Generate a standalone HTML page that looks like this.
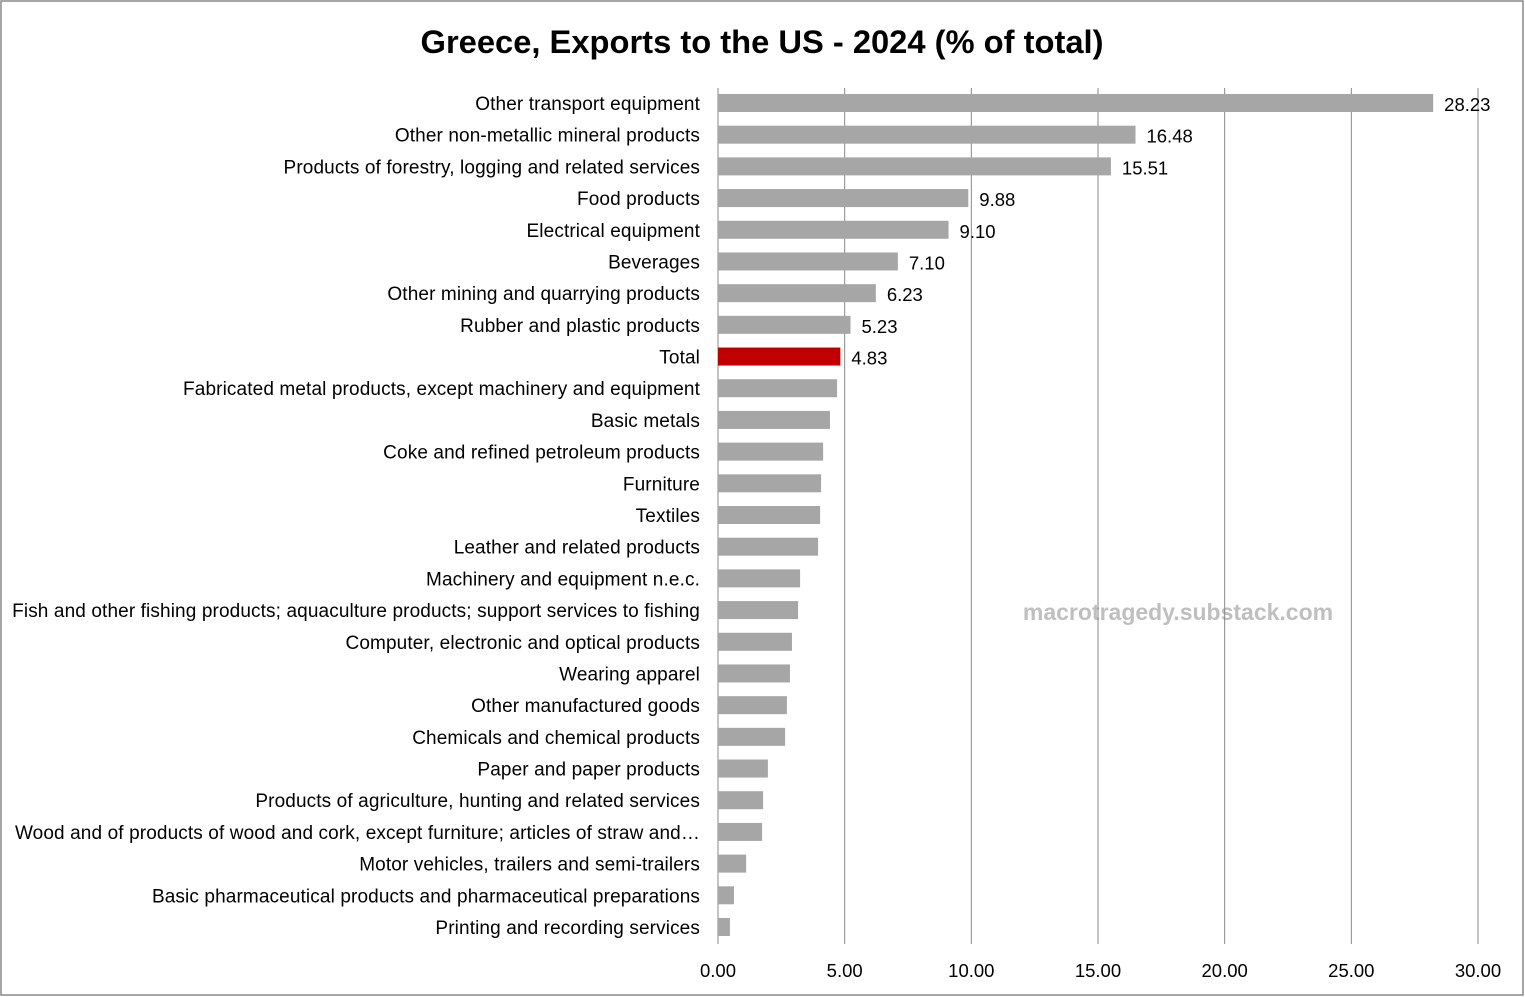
<!DOCTYPE html>
<html><head><meta charset="utf-8"><style>
body{margin:0;background:#fff}
svg{display:block;font-family:"Liberation Sans",sans-serif}
</style></head><body>
<svg id="c" width="1525" height="997">
<rect x="1" y="1" width="1522" height="994" fill="#fff" stroke="#888" stroke-width="1.5"/>
<text x="762" y="53" text-anchor="middle" font-size="32.7" font-weight="bold" fill="#000">Greece, Exports to the US - 2024 (% of total)</text>
<text x="1178" y="620" text-anchor="middle" font-size="23" font-weight="bold" fill="#bfbfbf">macrotragedy.substack.com</text>
<g id="grid"></g><g id="bars"></g><g id="labels"></g><g id="ticks"></g>
</svg>
<script>
const categories=["Other transport equipment","Other non-metallic mineral products","Products of forestry, logging and related services","Food products","Electrical equipment","Beverages","Other mining and quarrying products","Rubber and plastic products","Total","Fabricated metal products, except machinery and equipment","Basic metals","Coke and refined petroleum products","Furniture","Textiles","Leather and related products","Machinery and equipment n.e.c.","Fish and other fishing products; aquaculture products; support services to fishing","Computer, electronic and optical products","Wearing apparel","Other manufactured goods","Chemicals and chemical products","Paper and paper products","Products of agriculture, hunting and related services","Wood and of products of wood and cork, except furniture; articles of straw and…","Motor vehicles, trailers and semi-trailers","Basic pharmaceutical products and pharmaceutical preparations","Printing and recording services"];
const values=[28.23,16.48,15.51,9.88,9.10,7.10,6.23,5.23,4.83,4.70,4.42,4.15,4.07,4.03,3.95,3.24,3.16,2.92,2.84,2.72,2.65,1.97,1.78,1.74,1.11,0.63,0.47];
const labeledCount=9;
const tickValues=[0,5,10,15,20,25,30];
const NS="http://www.w3.org/2000/svg";
const x0=718,x1=1478,xMax=30,yTop=103,step=(927-103)/26,bh=18;
const xs=v=>x0+v/xMax*(x1-x0);
const ys=i=>yTop+i*step;
function mk(t,a,p){const e=document.createElementNS(NS,t);for(const k in a)e.setAttribute(k,a[k]);document.getElementById(p).appendChild(e);return e;}
tickValues.forEach(t=>{
 const l=mk("line",{x1:xs(t),x2:xs(t),y1:88,y2:944,stroke:"#888","stroke-width":1},"grid");
 
 
 const tx=mk("text",{x:xs(t),y:977,"text-anchor":"middle","font-size":18.5,fill:"#000"},"ticks");
 tx.textContent=t.toFixed(2);
 
 
});
categories.forEach((c,i)=>{
 const y=ys(i);
 const r=mk("rect",{x:x0,y:y-bh/2,width:xs(values[i])-x0,height:bh,fill:c==="Total"?"#c00000":"#a6a6a6"},"bars");
 
 
 const t=mk("text",{x:700,y:y+7,"text-anchor":"end","font-size":19,"letter-spacing":0.12,fill:"#000"},"labels");
 t.textContent=c;
 
 
 if(i<labeledCount){
  const v=mk("text",{x:xs(values[i])+11,y:y+8,"font-size":18.5,fill:"#000"},"labels");
  v.textContent=values[i].toFixed(2);
  
  
 }
});
</script>
</body></html>
